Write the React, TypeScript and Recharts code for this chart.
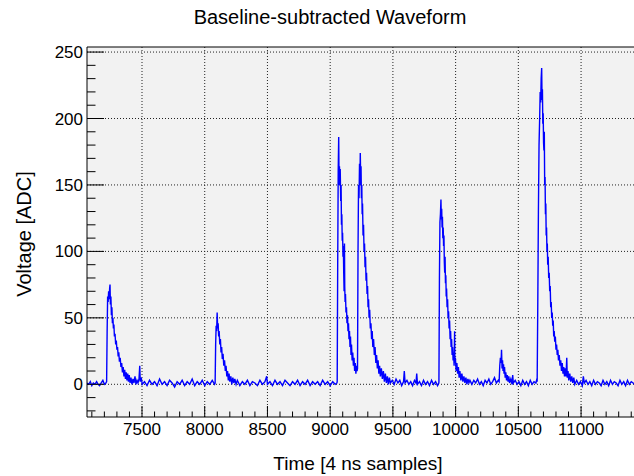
import { LineChart, Line, XAxis, YAxis, ReferenceLine, ReferenceArea } from "recharts";

const FONT = "'Liberation Sans', Arial, Helvetica, sans-serif";

const X_MIN = 7061.5;
const X_MAX = 11422;
const Y_MIN = -24.6;
const Y_MAX = 253.8;

// tick labels
const xMajor = [7500, 8000, 8500, 9000, 9500, 10000, 10500, 11000];
const xTicks = [
  7100, 7200, 7300, 7400, 7500, 7600, 7700, 7800, 7900, 8000, 8100, 8200, 8300, 8400, 8500,
  8600, 8700, 8800, 8900, 9000, 9100, 9200, 9300, 9400, 9500, 9600, 9700, 9800, 9900, 10000,
  10100, 10200, 10300, 10400, 10500, 10600, 10700, 10800, 10900, 11000, 11100, 11200, 11300, 11400,
];
const yMajor = [0, 50, 100, 150, 200, 250];
const yTicks = [
  -20, -10, 0, 10, 20, 30, 40, 50, 60, 70, 80, 90, 100, 110, 120, 130, 140, 150, 160, 170, 180,
  190, 200, 210, 220, 230, 240, 250,
];

// waveform, [sample, ADC]
const base1 = [
  [7062, 1], [7075, 0], [7088, 2], [7100, -1], [7112, 1], [7125, 0], [7138, 2], [7150, 0],
  [7162, -1], [7175, 1], [7188, 3], [7200, 0], [7212, 1],
];
const pulse1 = [
  [7218, 2], [7222, 40], [7226, 66], [7230, 62], [7234, 70], [7238, 64], [7242, 72], [7245, 75],
  [7248, 60], [7252, 66], [7256, 52], [7260, 58], [7264, 46], [7268, 50], [7272, 42], [7276, 45],
  [7280, 36], [7285, 38], [7290, 30], [7295, 33], [7300, 26], [7305, 28], [7310, 21], [7315, 24],
  [7320, 17], [7326, 20], [7332, 13], [7338, 16], [7344, 9], [7350, 13], [7356, 6], [7362, 11],
  [7368, 4], [7374, 9], [7380, 3], [7386, 8], [7392, 2], [7398, 7], [7405, 1], [7412, 5],
  [7420, 0], [7428, 4], [7436, 1], [7444, 6], [7452, 0], [7460, 3], [7468, 1], [7476, 4],
  [7482, 14], [7486, 2], [7494, 5], [7502, 0],
];
const base2 = [
  [7520, 2], [7540, -1], [7560, 3], [7580, 0], [7600, 2], [7620, -1], [7640, 4], [7660, 0],
  [7680, 2], [7700, -1], [7720, 3], [7740, 1], [7760, -2], [7780, 2], [7800, 0], [7820, 3],
  [7840, -1], [7860, 2], [7880, 0], [7900, 4], [7920, -1], [7940, 2], [7960, 0], [7980, 3],
  [8000, -1], [8020, 2], [8040, 0], [8060, 3], [8078, 0],
];
const pulse2 = [
  [8083, 1], [8087, 30], [8091, 44], [8095, 40], [8099, 54], [8103, 42], [8107, 46], [8111, 36],
  [8115, 40], [8120, 30], [8125, 34], [8130, 24], [8135, 28], [8140, 19], [8146, 23], [8152, 14],
  [8158, 18], [8164, 10], [8170, 14], [8176, 6], [8182, 10], [8188, 3], [8194, 8], [8200, 2],
  [8208, 6], [8216, 0], [8224, 5], [8232, 1], [8240, 4], [8250, 0], [8260, 3],
];
const base3 = [
  [8280, -1], [8300, 2], [8320, 0], [8340, 3], [8360, -1], [8380, 2], [8400, 1], [8420, -1],
  [8440, 3], [8460, 0], [8480, 2], [8494, 6], [8500, 0], [8520, 2], [8540, -1], [8560, 3],
  [8580, 0], [8600, 2], [8620, -1], [8640, 3], [8660, 1], [8680, -1], [8700, 2], [8720, 0],
  [8740, 3], [8760, -1], [8780, 2], [8800, 0], [8820, 3], [8840, -1], [8860, 2], [8880, 0],
  [8900, 2], [8920, -1], [8940, 3], [8960, 0], [8980, 2], [9000, -1], [9020, 2], [9040, 0],
  [9054, 1],
];
const pulse3 = [
  [9056, 2], [9060, 90], [9064, 160], [9068, 186], [9071, 150], [9074, 164], [9077, 152],
  [9080, 162], [9084, 138], [9087, 150], [9090, 120], [9093, 128], [9096, 108], [9099, 114],
  [9102, 96], [9105, 104], [9108, 84], [9111, 70], [9114, 106], [9116, 74], [9119, 62],
  [9122, 68], [9126, 54], [9130, 58], [9134, 46], [9138, 52], [9142, 40], [9146, 46], [9150, 34],
  [9154, 40], [9158, 28], [9162, 36], [9166, 22], [9170, 30], [9175, 18], [9180, 24], [9185, 14],
  [9190, 20], [9195, 10], [9200, 16], [9205, 8], [9210, 14], [9214, 10],
];
const pulse4 = [
  [9218, 12], [9222, 100], [9226, 150], [9230, 140], [9234, 166], [9237, 150], [9240, 174],
  [9243, 156], [9246, 164], [9249, 140], [9252, 150], [9255, 128], [9258, 136], [9262, 112],
  [9266, 120], [9270, 100], [9274, 106], [9278, 88], [9282, 96], [9286, 78], [9290, 84],
  [9294, 68], [9298, 74], [9302, 58], [9306, 64], [9310, 50], [9315, 56], [9320, 42], [9325, 46],
  [9330, 34], [9335, 40], [9340, 28], [9346, 34], [9352, 22], [9358, 28], [9364, 16], [9370, 22],
  [9376, 12], [9382, 18], [9388, 8], [9394, 14], [9400, 6], [9408, 12], [9416, 4], [9424, 10],
  [9432, 2], [9440, 8], [9448, 1], [9456, 6], [9464, 0], [9472, 5], [9480, 1],
];
const base4 = [
  [9495, 3], [9510, 0], [9525, 4], [9540, 1], [9555, 3], [9570, -1], [9585, 2], [9591, 10],
  [9597, 1], [9612, 3], [9627, 0], [9642, 2], [9657, -1], [9672, 3], [9684, 1], [9690, 8],
  [9696, 0], [9712, 2], [9728, -1], [9744, 3], [9760, 0], [9776, 2], [9792, -1], [9808, 3],
  [9824, 0], [9840, 2], [9856, -1], [9866, 1],
];
const pulse5 = [
  [9867, 2], [9871, 80], [9875, 122], [9879, 128], [9883, 139], [9886, 124], [9889, 132],
  [9892, 118], [9895, 126], [9898, 110], [9901, 118], [9904, 104], [9907, 112], [9910, 92],
  [9913, 84], [9916, 96], [9919, 76], [9922, 82], [9925, 66], [9928, 72], [9932, 58], [9936, 64],
  [9940, 50], [9944, 55], [9948, 42], [9952, 48], [9956, 34], [9960, 40], [9964, 28], [9968, 34],
  [9972, 22], [9976, 28], [9980, 18], [9984, 24], [9988, 14], [9992, 40], [9994, 16], [9998, 20],
  [10004, 10], [10010, 16], [10016, 8], [10022, 13], [10028, 5], [10034, 10], [10042, 3],
  [10050, 8], [10058, 2], [10066, 6], [10074, 1], [10082, 5], [10090, 0], [10098, 4],
  [10106, 1], [10114, 3],
];
const base5 = [
  [10130, 0], [10145, 3], [10160, 1], [10175, 4], [10190, 0], [10205, 2], [10220, -1],
  [10235, 3], [10250, 1], [10265, 4], [10280, 0], [10295, 2], [10310, 5], [10325, 1], [10340, 3],
];
const pulse6 = [
  [10347, 2], [10352, 14], [10357, 20], [10362, 16], [10366, 26], [10370, 12], [10374, 18],
  [10378, 10], [10382, 15], [10386, 8], [10390, 13], [10395, 5], [10400, 9], [10406, 3],
  [10412, 7], [10418, 2], [10424, 6], [10430, 1], [10440, 4], [10450, 0], [10455, 7], [10460, 1],
];
const base6 = [
  [10475, 3], [10490, 0], [10505, 2], [10520, -1], [10535, 3], [10550, 0], [10565, 2],
  [10580, -1], [10595, 3], [10610, 0], [10625, 2], [10640, 1], [10648, 4],
];
const pulse7 = [
  [10650, 2], [10655, 60], [10660, 130], [10665, 180], [10670, 200], [10674, 220], [10678, 212],
  [10682, 230], [10686, 238], [10689, 214], [10692, 222], [10695, 196], [10698, 204],
  [10701, 182], [10704, 176], [10707, 190], [10710, 150], [10713, 156], [10716, 128],
  [10719, 136], [10722, 112], [10725, 118], [10728, 100], [10731, 106], [10734, 90], [10738, 96],
  [10742, 80], [10746, 84], [10750, 70], [10754, 74], [10758, 58], [10762, 62], [10766, 50],
  [10770, 54], [10774, 44], [10778, 48], [10782, 36], [10786, 40], [10790, 32], [10795, 36],
  [10800, 26], [10805, 30], [10810, 22], [10815, 26], [10820, 18], [10826, 22], [10832, 14],
  [10838, 18], [10844, 10], [10850, 16], [10856, 8], [10862, 13], [10868, 6], [10874, 12],
  [10880, 6], [10886, 20], [10890, 5], [10896, 10], [10902, 3], [10910, 8], [10918, 2],
  [10926, 6], [10934, 1], [10942, 5], [10950, 0],
];
const base7 = [
  [10965, 3], [10980, 0], [10995, 2], [11010, -1], [11018, 6], [11026, 1], [11040, 3],
  [11055, 0], [11070, 2], [11085, -1], [11100, 3], [11115, 0], [11130, 2], [11145, 1],
  [11160, -1], [11175, 3], [11190, 0], [11205, 2], [11220, -1], [11235, 3], [11250, 0],
  [11265, 2], [11280, 1], [11295, -1], [11310, 3], [11325, 0], [11340, 2], [11355, -1],
  [11370, 3], [11385, 0], [11400, 2], [11415, 1], [11425, 0],
];

const data = [
  ...base1, ...pulse1, ...base2, ...pulse2, ...base3, ...pulse3, ...pulse4, ...base4,
  ...pulse5, ...base5, ...pulse6, ...base6, ...pulse7, ...base7,
].map(([t, v]) => ({ t, v }));

const XTick = (props: any) => {
  const { x, y, payload } = props;
  const major = payload.value % 500 === 0;
  return (
    <g>
      <line x1={x} x2={x} y1={y} y2={y - (major ? 11 : 5.5)} stroke="#000" />
      {major && (
        <text x={x} y={y + 17.6} textAnchor="middle" fontSize={17} fill="#000" fontFamily={FONT}>
          {payload.value}
        </text>
      )}
    </g>
  );
};

const YTick = (props: any) => {
  const { x, y, payload } = props;
  const major = payload.value % 50 === 0;
  return (
    <g>
      <line x1={x} x2={x + (major ? 17 : 8.5)} y1={y} y2={y} stroke="#000" />
      {major && (
        <text x={x - 4} y={y + 6} textAnchor="end" fontSize={17} fill="#000" fontFamily={FONT}>
          {payload.value}
        </text>
      )}
    </g>
  );
};

export default function App() {
  return (
    <div style={{ position: "absolute", left: 0, top: 0, width: 634, height: 476, background: "#fff" }}>
      <LineChart width={634} height={476} data={data} margin={{ top: 47, right: 0, bottom: 0, left: 0 }}>
        <ReferenceArea
          x1={X_MIN}
          x2={X_MAX}
          y1={Y_MIN}
          y2={Y_MAX}
          fill="#f2f2f2"
          fillOpacity={1}
          stroke="none"
          ifOverflow="extendDomain"
        />
        {xMajor.map((v) => (
          <ReferenceLine key={"gx" + v} x={v} stroke="#222" strokeDasharray="1 2" />
        ))}
        {yMajor.map((v) => (
          <ReferenceLine key={"gy" + v} y={v} stroke="#222" strokeDasharray="1 2" />
        ))}
        <ReferenceLine y={Y_MAX} stroke="#000" />
        <XAxis
          dataKey="t"
          type="number"
          domain={[X_MIN, X_MAX]}
          allowDataOverflow
          ticks={xTicks}
          interval={0}
          tickSize={0}
          tickMargin={0}
          tickLine={false}
          tick={<XTick />}
          axisLine={{ stroke: "#000" }}
          height={59}
        />
        <YAxis
          type="number"
          domain={[Y_MIN, Y_MAX]}
          allowDataOverflow
          ticks={yTicks}
          interval={0}
          tickSize={0}
          tickMargin={0}
          tickLine={false}
          tick={<YTick />}
          axisLine={{ stroke: "#000" }}
          width={87}
        />
        <Line
          type="linear"
          dataKey="v"
          stroke="#0000ff"
          strokeWidth={1.4}
          dot={false}
          isAnimationActive={false}
        />
      </LineChart>
      <svg width={634} height={476} style={{ position: "absolute", left: 0, top: 0, pointerEvents: "none" }}>
        <text x={330} y={24} textAnchor="middle" fontSize={20} fill="#000" fontFamily={FONT}>
          Baseline-subtracted Waveform
        </text>
        <text x={358} y={470} textAnchor="middle" fontSize={19} fill="#000" fontFamily={FONT}>
          Time [4 ns samples]
        </text>
        <text
          x={31}
          y={234}
          textAnchor="middle"
          fontSize={20}
          fill="#000"
          fontFamily={FONT}
          transform="rotate(-90 31 234)"
        >
          Voltage [ADC]
        </text>
      </svg>
    </div>
  );
}
